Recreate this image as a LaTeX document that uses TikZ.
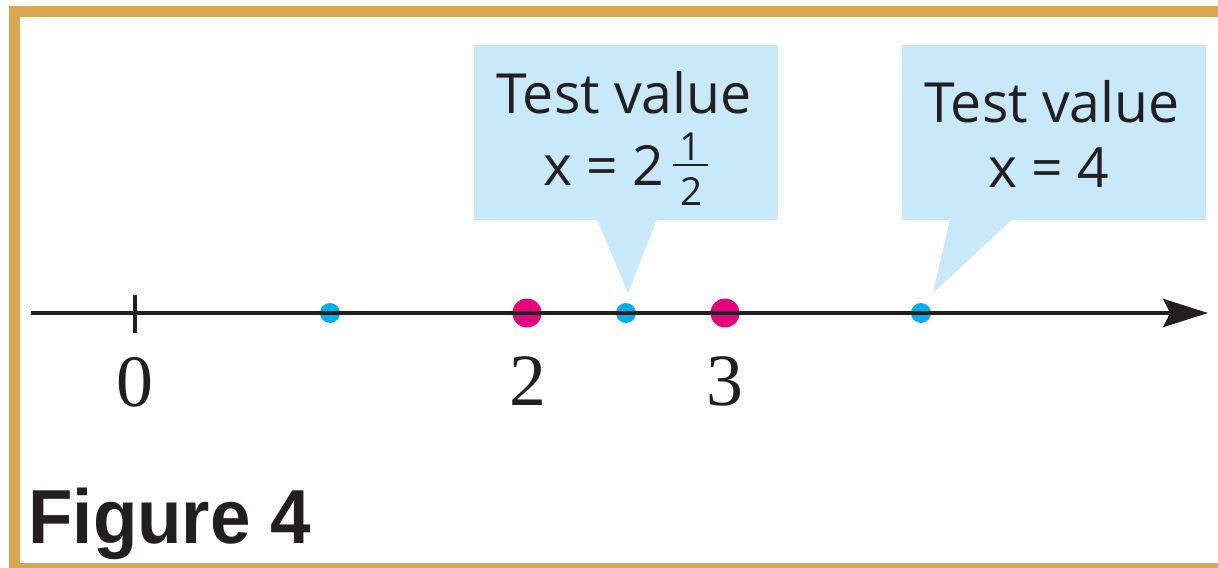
\documentclass[tikz,border=0pt]{standalone}
\usepackage{fontspec}
\usetikzlibrary{arrows.meta,calc}
\newfontfamily\handfont{Open Sans}
\newfontfamily\figfont{Liberation Sans}
\newfontfamily\numfont{Liberation Serif}
\definecolor{gold}{HTML}{DAA650}
\definecolor{callout}{HTML}{C8E9FA}
\definecolor{dotblue}{HTML}{00AEEF}
\definecolor{dotmag}{HTML}{E5007D}
\definecolor{ink}{HTML}{231F20}
\begin{document}
\begin{tikzpicture}[x=0.02cm,y=-0.02cm,
  calloutbox/.style={fill=callout, draw=none, minimum width=6.08cm, minimum height=3.5cm, inner sep=0},
  bluedot/.style={circle, fill=dotblue, minimum size=0.4cm, inner sep=0},
  magdot/.style={circle, fill=dotmag, minimum size=0.58cm, inner sep=0},
  axisline/.style={draw=ink, line width=2.3pt},
  hand/.style={text=ink, inner sep=0, font=\handfont\fontsize{31.5}{36}\selectfont},
  handsmall/.style={text=ink, inner sep=0, font=\handfont\fontsize{22}{26}\selectfont},
  numlabel/.style={text=ink, inner sep=0, font=\numfont\fontsize{42}{48}\selectfont},
]
\useasboundingbox (0,0) rectangle (1218,568);
\clip (0,0) rectangle (1218,568);
% frame
\draw[gold, line width=6.2pt] (1240,11.5) -- (14.5,11.5) -- (14.5,568.5) -- (1240,568.5);
% callout boxes
\node[calloutbox] (c1) at (626,132.5) {};
\node[calloutbox] (c2) at (1054,132.5) {};
% dots
\node[bluedot] (b1) at (330,313) {};
\node[magdot] (m2) at (527,313) {};
\node[bluedot] (b2) at (626,313) {};
\node[magdot] (m3) at (725,313) {};
\node[bluedot] (b3) at (921,313) {};
% pointers
\fill[callout] ($(c1.south)+(-29,-1)$) -- ($(b2.center)+(2,-20)$) -- ($(c1.south)+(31,-1)$) -- cycle;
\fill[callout] ($(c2.south)+(-104,-1)$) -- ($(b3.center)+(12,-20)$) -- ($(c2.south)+(-42,-1)$) -- cycle;
% axis
\coordinate (L) at (31,313);
\coordinate (R) at (1208,313);
\draw[axisline, -{Stealth[length=25.5pt,width=16pt,inset=4pt]}] (L) -- (R);
\coordinate (t0) at (135,313);
\draw[axisline] ($(t0)+(0,-18)$) -- ($(t0)+(0,20)$);
% labels
\node[numlabel, anchor=base] (n0) at (135,406) {0};
\node[numlabel, anchor=base] (n2) at (528,405) {2};
\node[numlabel, anchor=base] (n3) at (725,405) {3};
% callout texts
\node[hand, anchor=base] (t1a) at (624,113) {Test value};
\node[hand, anchor=base east] (t1b) at (665,185) {x = 2};
\node[handsmall, anchor=base] (f1) at (691,160) {1};
\draw[ink, line width=1.7pt] (673,165) -- (708,165);
\node[handsmall, anchor=base] (f2) at (692,205) {2};
\node[hand, anchor=base] (t2a) at (1052,122) {Test value};
\node[hand, anchor=base] (t2b) at (1049,187) {x = 4};
% figure label
\node[anchor=base west, inner sep=0, text=ink, font=\figfont\bfseries\fontsize{43.6}{50}\selectfont] (fig) at (28,543) {\scalebox{0.95}[1]{Figure 4}};
\end{tikzpicture}
\end{document}
